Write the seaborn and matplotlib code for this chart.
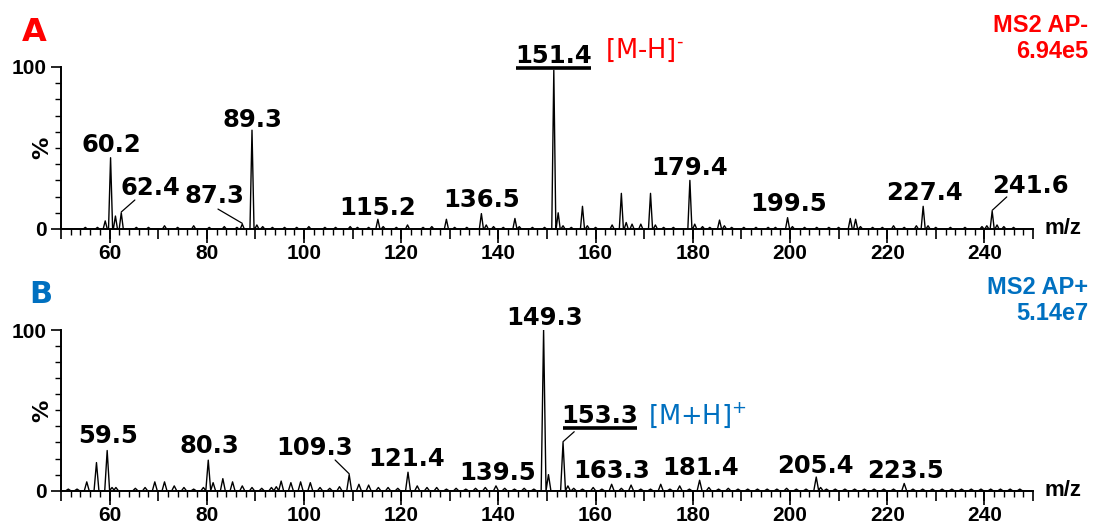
import matplotlib
matplotlib.use("Agg")
import matplotlib.pyplot as plt
import pandas as pd
import seaborn as sns
from matplotlib.ticker import MultipleLocator, FixedLocator, NullFormatter

# ---------------------------------------------------------------------------
# Peak lists: m/z and relative intensity (%)
# ---------------------------------------------------------------------------
# A: MS2, APCI negative mode (base peak 6.94e5)
neg_mz = [55.0, 57.5, 59.1, 60.2, 61.2, 62.4, 65.5, 68.0, 71.3, 74.0, 77.3,
          80.5, 83.6, 86.2, 87.3, 89.3, 90.3, 91.5, 93.5, 96.0, 98.5, 101.0,
          104.3, 106.5, 109.5, 111.0, 113.3, 115.2, 116.3, 119.0, 121.3,
          124.5, 126.3, 129.3, 131.0, 133.5, 136.5, 137.5, 139.0, 141.0,
          143.4, 144.3, 147.0, 149.5, 151.4, 152.3, 153.3, 155.0, 157.3,
          158.3, 160.0, 163.4, 165.3, 166.3, 167.5, 169.3, 171.3, 172.3,
          174.0, 176.0, 179.4, 180.4, 182.0, 183.5, 185.5, 186.5, 188.0,
          190.5, 193.0, 195.5, 197.0, 199.5, 200.5, 203.0, 205.5, 208.0,
          210.0, 212.4, 213.5, 214.5, 217.0, 219.0, 221.3, 223.5, 226.0,
          227.4, 228.4, 230.0, 233.0, 236.0, 239.5, 240.5, 241.6, 242.6,
          244.0, 246.0]
neg_int = [1.0, 1.0, 5.0, 44.0, 8.0, 10.0, 1.0, 1.0, 2.0, 1.0, 2.0,
           1.0, 1.5, 1.0, 3.0, 61.0, 2.5, 1.5, 1.0, 1.0, 1.0, 1.5,
           1.0, 1.0, 1.5, 1.0, 1.0, 6.0, 1.5, 1.0, 2.5,
           1.0, 1.5, 6.0, 1.0, 1.0, 9.5, 2.5, 1.5, 1.0,
           6.5, 1.5, 1.0, 1.0, 98.0, 10.0, 2.0, 1.0, 14.0,
           2.0, 1.0, 2.5, 22.0, 4.0, 3.0, 3.0, 22.0, 2.5,
           1.0, 1.0, 30.0, 3.0, 1.5, 1.0, 5.5, 2.0, 1.0,
           1.0, 1.0, 1.0, 1.0, 7.0, 1.5, 1.0, 1.0, 1.0,
           1.0, 6.5, 6.0, 1.5, 1.0, 1.0, 2.0, 1.0, 2.0,
           14.0, 2.0, 1.0, 1.0, 1.0, 1.5, 2.0, 11.0, 2.5,
           1.5, 1.0]
neg_labels = [60.2, 62.4, 87.3, 89.3, 115.2, 136.5, 151.4, 179.4, 199.5,
              227.4, 241.6]

# B: MS2, APCI positive mode (base peak 5.14e7)
pos_mz = [51.5, 53.3, 55.3, 57.3, 59.5, 60.5, 61.3, 65.3, 67.3, 69.3, 71.3,
          73.3, 75.3, 77.3, 79.3, 80.3, 81.3, 83.3, 85.3, 87.3, 89.3, 91.3,
          93.3, 94.3, 95.3, 97.3, 99.3, 101.3, 103.3, 105.3, 107.3, 109.3,
          111.3, 113.3, 115.3, 117.3, 119.3, 121.4, 123.3, 125.3, 127.3,
          129.3, 131.3, 133.3, 135.3, 137.3, 139.5, 141.3, 143.3, 145.3,
          147.3, 149.3, 150.3, 153.3, 154.3, 155.5, 157.3, 159.5, 161.3,
          163.3, 165.3, 167.3, 169.3, 171.3, 173.4, 175.3, 177.3, 179.3,
          181.4, 183.3, 185.3, 187.3, 189.3, 191.3, 193.3, 195.3, 197.3,
          199.3, 201.3, 203.3, 205.4, 206.3, 207.5, 209.3, 211.3, 213.3,
          215.3, 217.3, 219.3, 221.3, 223.5, 225.3, 227.3, 229.3, 231.3,
          233.3, 235.3, 237.3, 239.3, 241.3, 243.3, 245.3, 247.3]
pos_int = [1.0, 1.0, 5.5, 17.5, 25.0, 2.0, 2.0, 1.5, 2.0, 5.5, 5.5,
           3.0, 2.0, 1.0, 2.0, 19.0, 5.0, 7.5, 5.5, 3.0, 2.0, 1.5,
           2.0, 2.5, 6.0, 5.0, 5.5, 5.0, 2.0, 1.5, 2.5, 10.0,
           4.0, 3.5, 2.0, 2.0, 1.5, 11.5, 3.0, 2.0, 2.0,
           1.0, 1.5, 1.0, 1.5, 2.0, 3.0, 1.5, 1.0, 1.5,
           1.0, 100.0, 10.0, 30.0, 3.0, 1.5, 1.0, 2.0, 1.0,
           4.0, 1.5, 3.5, 1.0, 1.0, 4.0, 1.0, 3.0, 1.0,
           6.5, 2.0, 1.0, 1.5, 1.0, 1.0, 1.0, 1.0, 1.0,
           1.5, 1.0, 1.0, 8.5, 2.0, 1.0, 1.0, 1.0, 1.0,
           1.0, 1.0, 1.0, 1.0, 4.5, 1.0, 1.0, 1.0, 1.0,
           1.0, 1.0, 1.0, 1.0, 1.0, 1.0, 1.0, 1.0]
pos_labels = [59.5, 80.3, 109.3, 121.4, 139.5, 149.3, 153.3, 163.3, 181.4,
              205.4, 223.5]

# ---------------------------------------------------------------------------
# Label placement: (label centre in m/z, label baseline in %) and optional
# leader line start point (m/z, %) that runs to the peak apex.
# ---------------------------------------------------------------------------
neg_layout = {60.2: (60.3, 47.5, None), 62.4: (68.4, 21.0, (65.2, 17.9)),
              87.3: (81.5, 16.0, (82.3, 12.3)), 89.3: (89.3, 63.0, None),
              115.2: (115.2, 8.6, None), 136.5: (136.6, 13.6, None),
              151.4: (151.3, 102.5, None), 179.4: (179.4, 33.3, None),
              199.5: (199.8, 11.1, None), 227.4: (227.6, 17.9, None),
              241.6: (249.4, 22.2, (244.6, 19.8))}
pos_layout = {59.5: (59.7, 29.5, None), 80.3: (80.5, 23.5, None),
              109.3: (102.1, 22.2, (106.4, 19.1)), 121.4: (121.2, 15.4, None),
              139.5: (139.9, 6.7, None), 149.3: (149.6, 103.1, None),
              153.3: (160.9, 42.1, (155.6, 36.7)), 163.3: (163.4, 7.9, None),
              181.4: (181.7, 9.8, None), 205.4: (205.3, 11.2, None),
              223.5: (223.7, 7.9, None)}

RED = "#FF0000"
BLUE = "#0070C0"
W, H = 1096, 524
TICK_FONT = dict(family="Liberation Sans", weight="bold", size=15)

sns.set_style("ticks")
plt.rcParams["font.family"] = ["DejaVu Sans"]
plt.rcParams["axes.linewidth"] = 1.4
for key in ("text.color", "axes.labelcolor", "axes.edgecolor",
            "xtick.color", "ytick.color"):
    plt.rcParams[key] = "black"


def profile(mz, inten, half):
    """Turn a centroid peak list into a profile trace of narrow peaks."""
    xs, ys = [50.0], [0.0]
    for m, h in sorted(zip(mz, inten)):
        xs += [m - half, m, m + half]
        ys += [0.0, h, 0.0]
    xs.append(250.0)
    ys.append(0.0)
    return pd.DataFrame({"mz": xs, "pct": ys})


def style_axes(ax):
    ax.set_xlim(50, 250)
    ax.set_ylim(0, 100)
    sns.despine(ax=ax)
    ax.spines["left"].set_linewidth(1.4)
    ax.spines["bottom"].set_linewidth(1.4)
    # y: labelled 0 / 100, small ticks every 10
    ax.yaxis.set_major_locator(FixedLocator([0, 100]))
    ax.yaxis.set_minor_locator(MultipleLocator(10))
    ax.tick_params(axis="y", which="major", length=7, width=1.2, pad=3)
    ax.tick_params(axis="y", which="minor", length=4, width=1.0)
    ax.set_yticks([0, 100])
    ax.set_yticklabels(["0", "100"], fontdict=TICK_FONT)
    # x: ticks every 10 and every 2, labels on a secondary axis every 20
    ax.xaxis.set_major_locator(MultipleLocator(10))
    ax.xaxis.set_minor_locator(MultipleLocator(2))
    ax.xaxis.set_major_formatter(NullFormatter())
    ax.tick_params(axis="x", which="major", length=7, width=1.2)
    ax.tick_params(axis="x", which="minor", length=4, width=1.0)
    sec = ax.secondary_xaxis(0)
    sec.spines["bottom"].set_visible(False)
    sec.xaxis.set_minor_locator(FixedLocator([]))
    sec.tick_params(axis="x", which="major", length=10, width=1.2, pad=1,
                    colors="black")
    sec.set_xticks(range(60, 260, 20))
    sec.set_xticklabels([str(v) for v in range(60, 260, 20)],
                        fontdict=TICK_FONT)
    ax.set_xlabel("")
    ax.set_ylabel("%", fontsize=16, fontweight="bold", rotation=90)
    ax.yaxis.set_label_coords(-0.009, 0.5)
    ax.text(1.012, 0.0, "m/z", transform=ax.transAxes, ha="left",
            va="center", family="Liberation Sans", weight="bold", size=16)


def label_peaks(ax, labels, layout, mz, inten, underline=None):
    heights = dict(zip(mz, inten))
    for pk in labels:
        tx, ty, lead = layout[pk]
        ax.text(tx, ty, f"{pk:.1f}", ha="center", va="baseline",
                fontsize=17.5, fontweight="bold", clip_on=False)
        if lead is not None:
            ax.annotate("", xy=(pk, heights[pk] + 0.5), xytext=lead,
                        arrowprops=dict(arrowstyle="-", lw=0.9, color="black",
                                        shrinkA=0, shrinkB=0),
                        annotation_clip=False)
        if pk == underline:
            ax.plot([tx - 7.7, tx + 7.7], [ty - 3.2, ty - 3.2], color="black",
                    lw=2.6, solid_capstyle="butt", clip_on=False)


fig = plt.figure(figsize=(W / 100, H / 100), dpi=100)
axA = fig.add_axes([61 / W, 1 - 229 / H, 972 / W, 162 / H])
axB = fig.add_axes([61 / W, 1 - 490.7 / H, 972 / W, 160.7 / H])

sns.lineplot(data=profile(neg_mz, neg_int, 0.42), x="mz", y="pct", sort=False,
             estimator=None, color="black", lw=1.0, ax=axA)
sns.lineplot(data=profile(pos_mz, pos_int, 0.5), x="mz", y="pct", sort=False,
             estimator=None, color="black", lw=1.0, ax=axB)

for ax in (axA, axB):
    style_axes(ax)

label_peaks(axA, neg_labels, neg_layout, neg_mz, neg_int, underline=151.4)
label_peaks(axB, pos_labels, pos_layout, pos_mz, pos_int, underline=153.3)

# precursor ion annotations
axA.text(161.9, 110.5, r"[M-H]$^{\text{-}}$", color=RED, fontsize=18.5,
         ha="left", va="center", clip_on=False)
axB.text(170.8, 47.1, r"[M+H]$^{+}$", color=BLUE, fontsize=18.5,
         ha="left", va="center", clip_on=False)

# panel letters and scan headers
fig.text(22 / W, 1 - 41 / H, "A", color=RED, fontsize=23, fontweight="bold",
         ha="left", va="baseline")
fig.text(29 / W, 1 - 303 / H, "B", color=BLUE, fontsize=22,
         fontweight="bold", ha="left", va="baseline")
hdr = dict(fontsize=17, fontweight="bold", family="Liberation Sans",
           ha="right", va="baseline")
fig.text(1088 / W, 1 - 32 / H, "MS2 AP-", color=RED, **hdr)
fig.text(1088 / W, 1 - 58 / H, "6.94e5", color=RED, **hdr)
fig.text(1088 / W, 1 - 294 / H, "MS2 AP+", color=BLUE, **hdr)
fig.text(1088 / W, 1 - 320 / H, "5.14e7", color=BLUE, **hdr)

fig.savefig("out.png", dpi=100, facecolor="white")
